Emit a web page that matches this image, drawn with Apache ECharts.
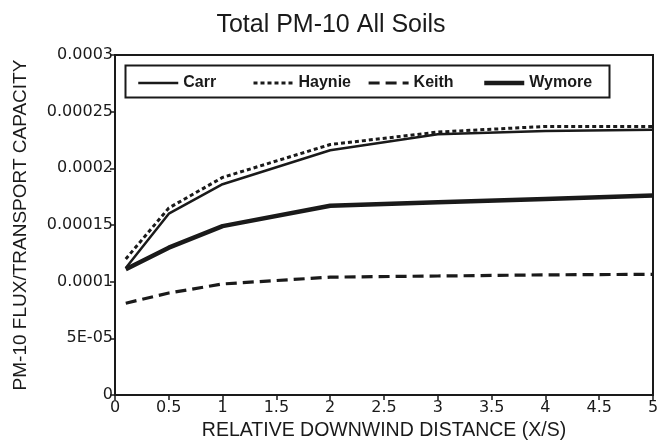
<!DOCTYPE html>
<html>
<head>
<meta charset="utf-8">
<script src="https://cdn.jsdelivr.net/npm/echarts@6/dist/echarts.min.js"></script>
<style>
html,body{margin:0;padding:0;background:#fff;}
#chart{width:662px;height:442px;}
</style>
</head>
<body>
<div id="chart"></div>
<script>
const xValues = [0.1, 0.5, 1, 2, 3, 4, 5];
const carr   = [1.12e-4, 1.60e-4, 1.86e-4, 2.16e-4, 2.30e-4, 2.33e-4, 2.34e-4];
const haynie = [1.20e-4, 1.65e-4, 1.92e-4, 2.21e-4, 2.32e-4, 2.37e-4, 2.37e-4];
const keith  = [8.1e-5, 9.0e-5, 9.8e-5, 1.04e-4, 1.05e-4, 1.06e-4, 1.065e-4];
const wymore = [1.11e-4, 1.30e-4, 1.49e-4, 1.67e-4, 1.70e-4, 1.73e-4, 1.76e-4];
const yTickLabels = {0: '0', 0.00005: '5E-05', 0.0001: '0.0001', 0.00015: '0.00015', 0.0002: '0.0002', 0.00025: '0.00025', 0.0003: '0.0003'};
const xTickLabels = ['0','0.5','1','1.5','2','2.5','3','3.5','4','4.5','5'];

function pairs(ys){ return xValues.map((x,i)=>[x, ys[i]]); }
const font = 'Liberation Sans';
const tickFont = 'DejaVu Sans';
const ink = '#1a1a1a';

const styles = {
  Carr:   {width: 2.5, type: 'solid'},
  Haynie: {width: 3, type: [4, 3]},
  Keith:  {width: 3.2, type: [11, 6]},
  Wymore: {width: 4.5, type: 'solid'}
};

const chart = echarts.init(document.getElementById('chart'), null, {renderer:'canvas'});
function legendFor(name, left) {
  return {
    left: left, top: 70, itemWidth: 40, itemHeight: 16, itemGap: 6,
    data: [name],
    textStyle: {fontFamily: font, fontSize: 16, color: ink, fontWeight: 'bold'},
    itemStyle: {opacity: 0, color: 'rgba(0,0,0,0)', borderWidth: 0},
    lineStyle: {color: ink, width: styles[name].width, type: styles[name].type},
    selectedMode: false
  };
}
chart.setOption({
  backgroundColor: '#fff',
  animation: false,
  title: {
    text: 'Total PM-10 All Soils', left: 'center', top: 8,
    textStyle: {fontFamily: font, fontSize: 25, fontWeight: 'normal', color: ink}
  },
  grid: {left: 115, right: 9, top: 55, bottom: 47, show: true, borderColor: ink, borderWidth: 2,
    containLabel: false, outerBoundsMode: 'none'},
  graphic: [{
    type: 'rect', left: 123, top: 63,
    shape: {width: 484, height: 32},
    style: {fill: 'none', stroke: ink, lineWidth: 2}, z: 10
  }],
  legend: [
    legendFor('Carr', 132),
    legendFor('Haynie', 247),
    legendFor('Keith', 362),
    legendFor('Wymore', 477)
  ],
  xAxis: {
    type: 'value', min: 0, max: 5, interval: 0.5,
    name: 'RELATIVE DOWNWIND DISTANCE (X/S)', nameLocation: 'middle', nameGap: 25,
    nameTextStyle: {fontFamily: font, fontSize: 19.5, color: ink},
    axisLine: {lineStyle: {color: ink, width: 2}},
    axisTick: {show: true, length: 5, lineStyle: {color: ink, width: 1.5}},
    splitLine: {show: false},
    axisLabel: {fontFamily: tickFont, fontSize: 16, color: ink, margin: 5,
      formatter: v => xTickLabels[Math.round(v*2)]}
  },
  yAxis: {
    type: 'value', min: 0, max: 0.0003, interval: 0.00005,
    name: 'PM-10 FLUX/TRANSPORT CAPACITY', nameLocation: 'middle', nameGap: 85,
    nameTextStyle: {fontFamily: font, fontSize: 19, color: ink},
    axisLine: {show: true, lineStyle: {color: ink, width: 2}},
    axisTick: {show: true, length: 5, lineStyle: {color: ink, width: 1.5}},
    splitLine: {show: false},
    axisLabel: {fontFamily: tickFont, fontSize: 16, color: ink, margin: 2,
      formatter: v => { for (const k in yTickLabels) { if (Math.abs(+k - v) < 1e-9) return yTickLabels[k]; } return ''; }}
  },
  series: ['Carr', 'Haynie', 'Keith', 'Wymore'].map((name, i) => ({
    name: name, type: 'line', data: pairs([carr, haynie, keith, wymore][i]), symbol: 'none',
    lineStyle: {color: ink, width: styles[name].width, type: styles[name].type},
    itemStyle: {color: ink}
  }))
});
</script>
</body>
</html>
